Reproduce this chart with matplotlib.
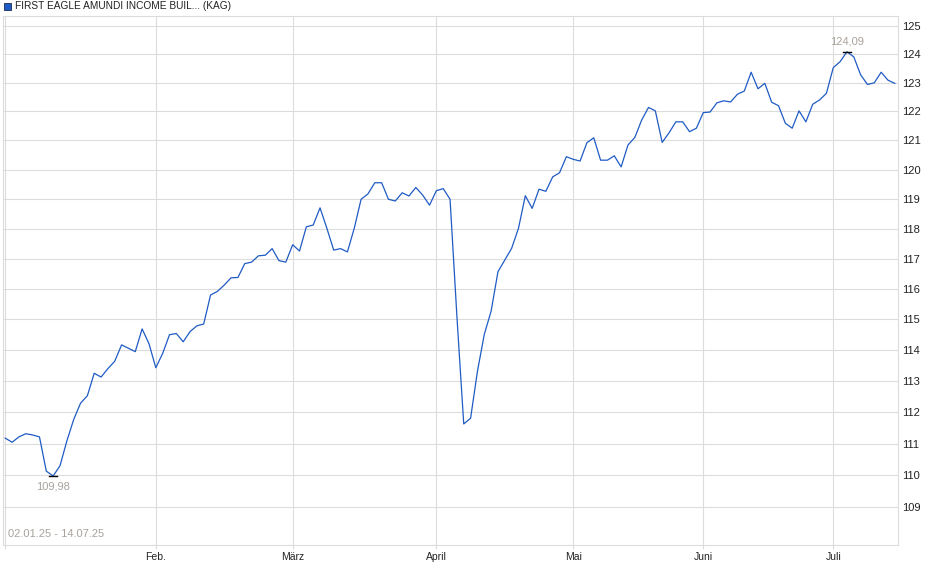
import numpy as np
import matplotlib
matplotlib.use("Agg")
import matplotlib.pyplot as plt
from matplotlib.ticker import FixedLocator, NullLocator

plt.rcParams['font.family'] = ['Liberation Sans', 'DejaVu Sans']

# ---- data (one value per trading day) ----
TITLE = "FIRST EAGLE AMUNDI INCOME BUIL... (KAG)"
DATE_RANGE = "02.01.25 - 14.07.25"
prices = [
    111.17, 111.04, 111.21, 111.31, 111.27, 111.21, 110.13, 109.98, 110.30, 111.08,
    111.76, 112.28, 112.52, 113.24, 113.12, 113.39, 113.63, 114.16, 114.05, 113.94,
    114.68, 114.20, 113.42, 113.88, 114.49, 114.53, 114.26, 114.59, 114.78, 114.84,
    115.79, 115.91, 116.12, 116.36, 116.37, 116.83, 116.88, 117.09, 117.11, 117.33,
    116.93, 116.88, 117.46, 117.25, 118.06, 118.12, 118.70, 118.01, 117.28, 117.33,
    117.22, 118.01, 118.99, 119.17, 119.55, 119.55, 118.99, 118.93, 119.21, 119.10,
    119.39, 119.13, 118.79, 119.28, 119.35, 118.99, 115.10, 111.62, 111.80, 113.30,
    114.50, 115.26, 116.56, 116.95, 117.34, 118.01, 119.11, 118.68, 119.33, 119.26,
    119.75, 119.89, 120.44, 120.35, 120.29, 120.92, 121.09, 120.32, 120.32, 120.47,
    120.09, 120.84, 121.10, 121.70, 122.14, 122.02, 120.93, 121.26, 121.64, 121.64,
    121.30, 121.42, 121.96, 121.98, 122.30, 122.37, 122.33, 122.60, 122.71, 123.37,
    122.79, 122.98, 122.32, 122.20, 121.59, 121.42, 122.02, 121.64, 122.25, 122.40,
    122.63, 123.53, 123.74, 124.09, 123.91, 123.28, 122.94, 123.00, 123.37, 123.09,
    122.98,
]
# index of the first trading day of each month, and its label
month_idx = [0, 22, 42, 63, 83, 102, 121]
month_labels = ["", "Feb.", "März", "April", "Mai", "Juni", "Juli"]
y_ticks = list(range(109, 126))

LINE = "#1f5bc4"
GRID = "#dcdcdc"
NOTE = "#a8a29c"

x = np.arange(len(prices))
y = np.array(prices)

fig = plt.figure(figsize=(9.4, 5.79), dpi=100)
ax = fig.add_axes([0.0029, 0.0587, 0.9527, 0.9137])

ax.plot(x, y, color=LINE, lw=0.9, zorder=3)

# price axis is logarithmic
ax.set_yscale("log")
ax.set_ylim(107.84, 125.36)
ax.set_xlim(-0.37, 130.5)

ax.yaxis.set_major_locator(FixedLocator(y_ticks))
ax.yaxis.set_minor_locator(NullLocator())
ax.set_yticklabels([str(t) for t in y_ticks])
ax.yaxis.tick_right()
ax.tick_params(axis="y", length=0, pad=3, labelsize=8, labelcolor="#222222")

ax.xaxis.set_major_locator(FixedLocator(month_idx))
ax.xaxis.set_minor_locator(NullLocator())
ax.set_xticklabels(month_labels)
ax.tick_params(axis="x", length=3, color=GRID, pad=2, labelsize=7.5, labelcolor="#222222")

ax.grid(True, color=GRID, lw=0.8, zorder=0)
for s in ax.spines.values():
    s.set_color(GRID)
    s.set_linewidth(0.8)

# min / max markers
for idx, off, va in [(int(np.argmin(y)), -4, "top"), (int(np.argmax(y)), 4, "bottom")]:
    ax.plot([idx - 0.6, idx + 0.6], [y[idx], y[idx]], color="black", lw=1.0, zorder=4)
    ax.annotate(f"{y[idx]:.2f}".replace(".", ","), (idx, y[idx]),
                xytext=(0, off), textcoords="offset points",
                ha="center", va=va, fontsize=8, color=NOTE)

ax.text(0.006, 0.012, DATE_RANGE, transform=ax.transAxes, fontsize=8,
        color=NOTE, ha="left", va="bottom")

# legend-like header
fig.patches.append(plt.Rectangle((4 / 940, 1 - 10 / 579), 7 / 940, 7 / 579,
                                 transform=fig.transFigure, facecolor="#1f5bc4",
                                 edgecolor="#1a2a50", lw=0.6))
fig.text(15 / 940, 1 - 6 / 579, TITLE, fontsize=7.3, color="#222222",
         ha="left", va="center")

fig.savefig("out.png", dpi=100)
